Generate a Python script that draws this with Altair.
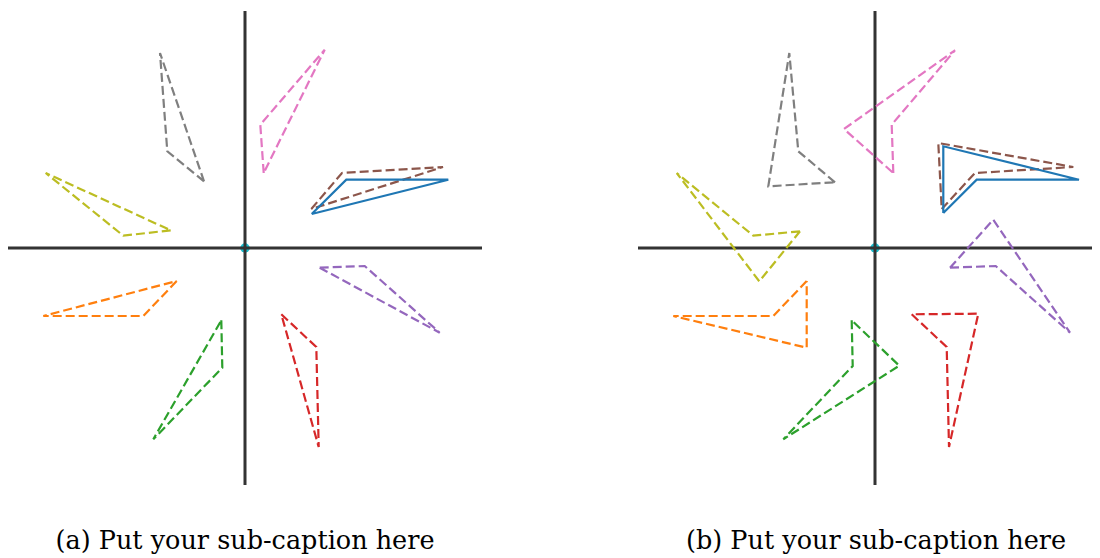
import altair as alt
import pandas as pd

# ---- data (units: pixels from the origin, y pointing up) ----
SHAPES = ["brown", "pink", "gray", "olive", "orange", "green", "red", "purple"]
COLORS = ["#8c564b", "#e377c2", "#7f7f7f", "#bcbd22", "#ff7f0e", "#2ca02c", "#d62728", "#9467bd"]
BLUE_COLOR = "#1f77b4"

# panel (a)
A_BLUE   = [(66.7, 34.0), (101.3, 68.3), (203.3, 68.3)]
A_BROWN  = [(66.3, 39.0), (97.0, 75.0), (198.0, 81.0)]
A_PINK   = [(18.7, 75.0), (15.3, 123.3), (79.7, 198.3)]
A_GRAY   = [(-41.0, 66.7), (-77.7, 96.7), (-85.0, 195.0)]
A_OLIVE  = [(-74.3, 17.7), (-121.7, 12.3), (-199.3, 75.0)]
A_ORANGE = [(-68.3, -33.0), (-101.7, -68.0), (-201.7, -68.0)]
A_GREEN  = [(-23.7, -72.3), (-22.7, -119.7), (-91.7, -191.3)]
A_RED    = [(36.3, -66.3), (71.3, -99.0), (73.7, -199.0)]
A_PURPLE = [(74.7, -19.7), (119.7, -18.0), (194.7, -84.7)]

# panel (b)
B_BLUE   = [(68.3, 35.0), (101.7, 68.3), (204.0, 68.3), (68.3, 101.7)]
B_BROWN  = [(66.7, 39.0), (100.0, 75.0), (198.3, 81.0), (63.3, 105.0)]
B_PINK   = [(18.3, 75.0), (16.7, 123.3), (80.0, 197.7), (-31.0, 119.0)]
B_GRAY   = [(-40.0, 65.7), (-76.7, 96.7), (-85.7, 195.0), (-106.7, 61.7)]
B_OLIVE  = [(-75.0, 16.7), (-121.7, 12.3), (-198.3, 75.0), (-115.7, -33.3)]
B_ORANGE = [(-68.3, -33.0), (-101.7, -68.0), (-201.7, -68.0), (-68.3, -99.7)]
B_GREEN  = [(-23.3, -72.3), (-22.3, -118.0), (-91.7, -191.3), (24.3, -117.7)]
B_RED    = [(36.7, -66.3), (71.7, -99.0), (74.0, -199.0), (103.3, -65.7)]
B_PURPLE = [(75.0, -19.7), (120.7, -18.0), (195.0, -84.7), (118.3, 28.3)]

AXIS_EXTENT = 237
CAPTIONS = ["(a) Put your sub-caption here", "(b) Put your sub-caption here"]


def poly_df(named):
    rows = []
    for name, pts in named:
        closed = list(pts) + [pts[0]]
        for i, (x, y) in enumerate(closed):
            rows.append({"shape": name, "i": i, "x": x, "y": y})
    return pd.DataFrame(rows)


def panel(blue, dashed, xmax, width, caption, dx):
    xs = alt.Scale(domain=[-AXIS_EXTENT, xmax], nice=False, zero=False)
    ys = alt.Scale(domain=[-AXIS_EXTENT, AXIS_EXTENT], nice=False, zero=False)
    X = alt.X("x:Q", scale=xs, axis=None)
    Y = alt.Y("y:Q", scale=ys, axis=None)

    axes_df = pd.DataFrame({
        "x": [-AXIS_EXTENT, 0], "x2": [AXIS_EXTENT, 0],
        "y": [0, -AXIS_EXTENT], "y2": [0, AXIS_EXTENT],
    })
    dot = alt.Chart(pd.DataFrame({"x": [0], "y": [0]})).mark_point(
        filled=True, size=90, color="#17becf", opacity=1
    ).encode(x=X, y=Y)
    axes = alt.Chart(axes_df).mark_rule(color="#333333", strokeWidth=3, clip=True).encode(
        x=X, x2="x2:Q", y=Y, y2="y2:Q"
    )
    dashed_lines = alt.Chart(poly_df(list(zip(SHAPES, dashed)))).mark_line(
        strokeDash=[9, 4], strokeWidth=2.2, clip=True
    ).encode(
        x=X, y=Y, order="i:Q", detail="shape:N",
        color=alt.Color("shape:N", scale=alt.Scale(domain=SHAPES, range=COLORS), legend=None),
    )
    solid = alt.Chart(poly_df([("blue", blue)])).mark_line(
        color=BLUE_COLOR, strokeWidth=2.2, clip=True
    ).encode(x=X, y=Y, order="i:Q")

    return alt.layer(dot, axes, dashed_lines, solid).properties(
        width=width, height=2 * AXIS_EXTENT,
        title=alt.TitleParams(
            text=caption, orient="bottom", anchor="middle", frame="group",
            font="DejaVu Serif", fontSize=25.5, fontWeight="normal", color="black",
            baseline="alphabetic", offset=64, dx=dx,
        ),
    )


pa = panel(A_BLUE, [A_BROWN, A_PINK, A_GRAY, A_OLIVE, A_ORANGE, A_GREEN, A_RED, A_PURPLE],
           AXIS_EXTENT, 474, CAPTIONS[0], 0)
pb = panel(B_BLUE, [B_BROWN, B_PINK, B_GRAY, B_OLIVE, B_ORANGE, B_GREEN, B_RED, B_PURPLE],
           217, 454, CAPTIONS[1], 11)

chart = alt.hconcat(pa, pb, spacing=156).properties(
    padding={"left": 0, "top": 3, "right": 0, "bottom": 0}
).configure_view(stroke=None)

chart.save("out.html", embed_options={"renderer": "svg", "actions": False})
